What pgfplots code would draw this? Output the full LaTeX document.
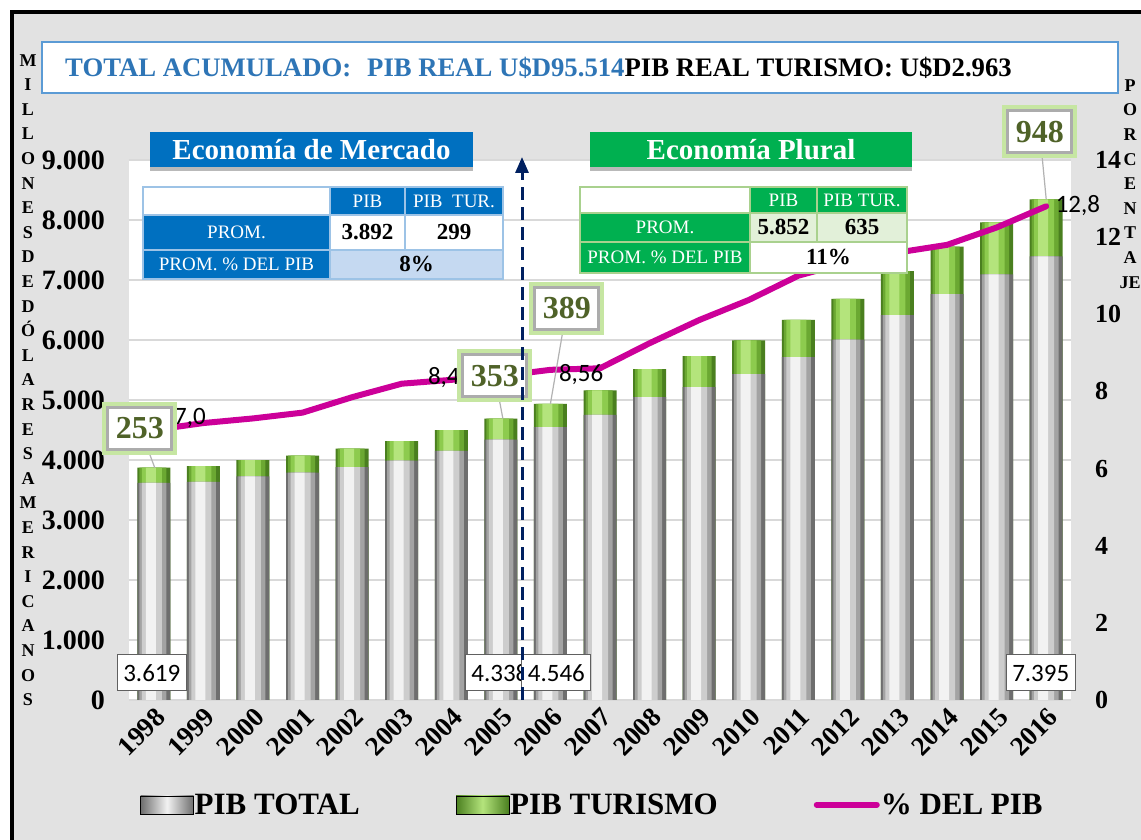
\documentclass[border=0pt]{standalone}
\usepackage{pgfplots}
\usepackage{pgfplotstable}
\pgfplotsset{compat=1.18}
\usepackage{fontspec}
\setmainfont{Liberation Serif}
\newfontfamily\calibri{Carlito}
\usetikzlibrary{arrows.meta}

\definecolor{pibblue}{HTML}{0070C0}
\definecolor{pibgreen}{HTML}{00B050}
\definecolor{magline}{HTML}{CC0099}
\definecolor{navyd}{HTML}{002060}
\definecolor{titleblue}{HTML}{2E75B6}
\definecolor{titlebord}{HTML}{5B9BD5}
\definecolor{lblgreen}{HTML}{4F6228}
\definecolor{glowgreen}{HTML}{C6E6A2}
\definecolor{bgtex}{HTML}{E2E2E2}
\definecolor{cellblue}{HTML}{C5D9F1}
\definecolor{cellgreen}{HTML}{E2F0D9}
\definecolor{bordblue}{HTML}{9DC3E6}
\definecolor{bordgreen}{HTML}{A9D18E}
\definecolor{gridc}{HTML}{D9D9D9}
\definecolor{g0}{HTML}{6E6E6E}
\definecolor{g1}{HTML}{A3A3A3}
\definecolor{g2}{HTML}{CDCDCD}
\definecolor{g3}{HTML}{F2F2F2}
\definecolor{r0}{HTML}{4A7F1F}
\definecolor{r1}{HTML}{6BA832}
\definecolor{r2}{HTML}{8DCB4E}
\definecolor{r3}{HTML}{B4E47C}

\pgfplotstableread{
x year total tur top pct
0 1998 3619 253 3872 7.00
1 1999 3635 261 3896 7.18
2 2000 3726 272 3998 7.30
3 2001 3789 282 4071 7.45
4 2002 3883 305 4188 7.85
5 2003 3988 327 4315 8.20
6 2004 4154 345 4499 8.30
7 2005 4338 353 4691 8.40
8 2006 4546 389 4935 8.56
9 2007 4753 409 5162 8.60
10 2008 5046 467 5513 9.25
11 2009 5216 514 5730 9.85
12 2010 5431 563 5994 10.37
13 2011 5714 620 6334 11.00
14 2012 6006 680 6686 11.35
15 2013 6414 735 7149 11.60
16 2014 6765 792 7557 11.80
17 2015 7094 865 7959 12.25
18 2016 7395 948 8343 12.80
}\datatable

\tikzset{
 callout/.style={draw=gray!65, line width=3pt, fill=white, text=lblgreen,
   font=\fontsize{32}{32}\selectfont\bfseries, minimum width=64pt, minimum height=42pt, inner sep=1pt,
   preaction={draw=glowgreen, line width=11pt, fill=none}},
 baselab/.style={draw=gray!75!black, line width=1pt, fill=white, font=\calibri\fontsize{25}{25}\selectfont, inner sep=6pt, minimum height=36pt},
 vallab/.style={font=\calibri\fontsize{25}{25}\selectfont, inner sep=1pt},
 wt/.style={text=white, font=\fontsize{19}{19}\selectfont, inner sep=0pt},
 bt/.style={text=black, font=\fontsize{23}{23}\selectfont\bfseries, inner sep=0pt},
}
\pgfplotsset{bb/.style n args={3}{ybar, draw=none, fill=#1, bar width=#2, bar shift=#3}}
\newcommand{\tcell}[8]{\filldraw[fill=#5, draw=#6, line width=1.5pt] (#1,#2) rectangle (#3,#4);
  \node[#7] at ({(#1+#3)/2},{(#2+#4)/2}) {#8};}

\begin{document}
\begin{tikzpicture}[x=1pt,y=1pt]
\useasboundingbox (0,0) rectangle (1141,840);
\fill[white] (0,0) rectangle (1141,840);
\fill[bgtex] (12,0) rectangle (1141,828);
\draw[black, line width=4pt] (12,0) -- (12,828) -- (1141,828);

\begin{axis}[
 at={(129pt,140pt)}, anchor=south west, scale only axis, width=942pt, height=540pt,
 xmin=-0.5, xmax=18.5, ymin=0, ymax=9000, clip=false,
 axis background/.style={fill=white},
 axis line style={draw=none}, tick style={draw=none},
 ymajorgrids, grid style={gridc, line width=1.5pt},
 ytick={0,1000,...,9000}, scaled y ticks=false,
 xtick={0,...,18},
 xticklabels={1998,1999,2000,2001,2002,2003,2004,2005,2006,2007,2008,2009,2010,2011,2012,2013,2014,2015,2016},
 yticklabel style={font=\fontsize{28}{28}\selectfont\bfseries, inner sep=0pt, xshift=-24pt},
 xticklabel style={font=\fontsize{27}{27}\selectfont\bfseries, rotate=45, anchor=east, inner sep=0pt, yshift=-14pt, xshift=-4pt},
 /pgf/number format/assume math mode=true,
 /pgf/number format/1000 sep={.},
]
% PIB TURISMO (top of stack: total + turismo)
\addplot[bb={r0}{33pt}{0pt}] table[x=x,y=top]{\datatable};
\addplot[bb={r1}{27pt}{-1pt}] table[x=x,y=top]{\datatable};
\addplot[bb={r2}{20pt}{-2pt}] table[x=x,y=top]{\datatable};
\addplot[bb={r3}{10pt}{-3pt}] table[x=x,y=top]{\datatable};
% PIB TOTAL
\addplot[bb={g0}{33pt}{0pt}] table[x=x,y=total]{\datatable};
\addplot[bb={g1}{27pt}{-1pt}] table[x=x,y=total]{\datatable};
\addplot[bb={g2}{20pt}{-2pt}] table[x=x,y=total]{\datatable};
\addplot[bb={g3}{10pt}{-3pt}] table[x=x,y=total]{\datatable};
\end{axis}

\begin{axis}[
 at={(129pt,140pt)}, anchor=south west, scale only axis, width=942pt, height=540pt,
 xmin=-0.5, xmax=18.5, ymin=0, ymax=14, clip=false,
 axis y line*=right, axis x line=none,
 axis line style={draw=none}, tick style={draw=none},
 ytick={0,2,...,14},
 yticklabel style={font=\fontsize{26}{26}\selectfont\bfseries, inner sep=0pt, xshift=24pt},
 /pgf/number format/assume math mode=true,
 legend style={at={(0.4915,-0.194)}, anchor=center, draw=none, fill=none,
   font=\fontsize{31}{31}\selectfont\bfseries,
   /tikz/every even column/.append style={column sep=95pt},
   nodes={inner sep=1pt}},
 legend columns=3, legend cell align=left,
]
\addlegendimage{legend image code/.code={\path[left color=g0, right color=g0, middle color=g3] (0pt,-9pt) rectangle (53pt,9pt);}}
\addlegendentry{PIB TOTAL}
\addlegendimage{legend image code/.code={\path[left color=r0, right color=r0, middle color=r3] (0pt,-9pt) rectangle (53pt,9pt);}}
\addlegendentry{PIB TURISMO}
\addplot[magline, line width=6pt, line join=round, line cap=round, mark=none,
  legend image code/.code={\draw[magline, line width=6pt] (0pt,0pt) -- (60pt,0pt);}] table[x=x,y=pct]{\datatable};
\addlegendentry{\% DEL PIB}
\node[vallab] at (axis cs:0.73,7.31) {7,0};
\node[vallab] at (axis cs:5.85,8.35) {8,4};
\node[vallab] at (axis cs:8.62,8.45) {8,56};
\node[vallab] at (axis cs:18.64,12.83) {12,8};
\draw[gray!60, line width=1.2pt] (axis cs:-0.28,7.05) -- (axis cs:0.02,6.02);
\node[callout] at (axis cs:-0.28,7.05) {253};
\draw[gray!60, line width=1.2pt] (axis cs:6.88,8.40) -- (axis cs:7.04,7.30);
\node[callout] at (axis cs:6.88,8.40) {353};
\draw[gray!60, line width=1.2pt] (axis cs:8.33,10.16) -- (axis cs:8.0,7.68);
\node[callout] at (axis cs:8.33,10.16) {389};
\draw[gray!60, line width=1.2pt] (axis cs:17.87,14.73) -- (axis cs:18.0,12.98);
\node[callout] at (axis cs:17.87,14.73) {948};
% PIB TOTAL base labels
\node[baselab] at (axis cs:-0.04,0.7) {3.619};
\node[baselab] at (axis cs:6.98,0.7) {4.338};
\node[baselab] at (axis cs:8.12,0.7) {4.546};
\node[baselab] at (axis cs:17.89,0.7) {7.395};
\end{axis}

\begin{scope}[yshift=840pt, y=-1pt, x=1pt]
% title
\draw[titlebord, line width=2.5pt, fill=white] (42,42) rectangle (1118,93);
\node[anchor=west, inner sep=0pt, font=\fontsize{26.7}{26.7}\selectfont\bfseries] at (65,68)
 {\textcolor{titleblue}{TOTAL ACUMULADO:\hspace{16pt}PIB REAL U\$D95.514}PIB REAL TURISMO: U\$D2.963};
% headers
\fill[gray!55] (150,136) rectangle (473,171);
\fill[pibblue] (150,132) rectangle (473,167);
\node[text=white, font=\fontsize{29}{29}\selectfont\bfseries] at (311.5,149.5) {Economía de Mercado};
\fill[gray!55] (590,136) rectangle (912,171);
\fill[pibgreen] (590,132) rectangle (912,167);
\node[text=white, font=\fontsize{29}{29}\selectfont\bfseries] at (751,149.5) {Economía Plural};
% blue table
\tcell{143}{187}{330}{215}{white}{bordblue}{wt}{}
\tcell{330}{187}{405}{215}{pibblue}{bordblue}{wt}{PIB}
\tcell{405}{187}{503}{215}{pibblue}{bordblue}{wt}{PIB\ \ TUR.}
\tcell{143}{215}{330}{250}{pibblue}{bordblue}{wt}{PROM.}
\tcell{330}{215}{405}{250}{white}{bordblue}{bt}{3.892}
\tcell{405}{215}{503}{250}{white}{bordblue}{bt}{299}
\tcell{143}{250}{330}{279}{pibblue}{bordblue}{wt}{PROM. \% DEL PIB}
\tcell{330}{250}{503}{279}{cellblue}{bordblue}{bt}{8\%}
% green table
\tcell{580}{187}{750}{213}{white}{bordgreen}{wt}{}
\tcell{750}{187}{817}{213}{pibgreen}{bordgreen}{wt}{PIB}
\tcell{817}{187}{907}{213}{pibgreen}{bordgreen}{wt}{PIB TUR.}
\tcell{580}{213}{750}{242}{pibgreen}{bordgreen}{wt}{PROM.}
\tcell{750}{213}{817}{242}{cellgreen}{bordgreen}{bt}{5.852}
\tcell{817}{213}{907}{242}{cellgreen}{bordgreen}{bt}{635}
\tcell{580}{242}{750}{273}{pibgreen}{bordgreen}{wt}{PROM. \% DEL PIB}
\tcell{750}{242}{907}{273}{white}{bordgreen}{bt}{11\%}
% axis titles
\node[font=\fontsize{18}{24.6}\selectfont\bfseries, align=center, inner sep=0pt] at (28,380)
 {M\\I\\L\\L\\O\\N\\E\\S\\D\\E\\D\\Ó\\L\\A\\R\\E\\S\\A\\M\\E\\R\\I\\C\\A\\N\\O\\S};
\node[font=\fontsize{18}{24.6}\selectfont\bfseries, align=center, inner sep=0pt] at (1130,184)
 {P\\O\\R\\C\\E\\N\\T\\A\\JE};
% divider arrow
\draw[navyd, line width=3pt, dash pattern=on 13pt off 7pt, -{Triangle[length=16pt, width=13pt]}] (522,700) -- (522,157);
\end{scope}
\end{tikzpicture}
\end{document}
